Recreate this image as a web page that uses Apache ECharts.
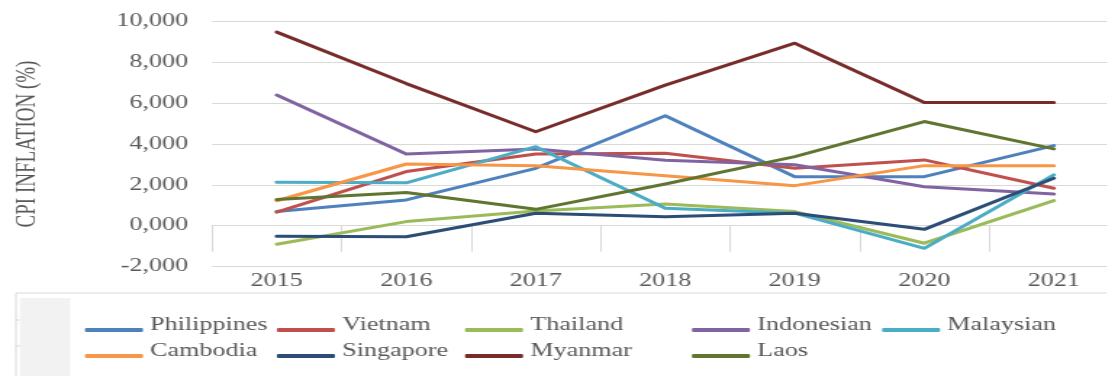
<!DOCTYPE html>
<html>
<head>
<meta charset="utf-8">
<script src="https://cdn.jsdelivr.net/npm/echarts@6/dist/echarts.min.js"></script>
<style>
html,body{margin:0;padding:0;overflow:hidden;background:#fff;width:1107px;height:376px;}
#c{width:780px;height:376px;transform:scaleX(1.45);transform-origin:0 0;}
</style>
</head>
<body>
<div id="c"></div>
<script>
const years = ['2015','2016','2017','2018','2019','2020','2021'];
const philippines = [0.69, 1.26, 2.81, 5.38, 2.40, 2.40, 3.92];
const vietnam     = [0.66, 2.65, 3.51, 3.55, 2.81, 3.22, 1.83];
const thailand    = [-0.91, 0.20, 0.72, 1.06, 0.69, -0.86, 1.23];
const indonesian  = [6.40, 3.51, 3.76, 3.20, 2.98, 1.91, 1.55];
const malaysian   = [2.13, 2.10, 3.87, 0.85, 0.61, -1.11, 2.49];
const cambodia    = [1.22, 3.02, 2.94, 2.45, 1.96, 2.94, 2.94];
const singapore   = [-0.52, -0.54, 0.61, 0.44, 0.61, -0.18, 2.32];
const myanmar     = [9.48, 6.96, 4.60, 6.88, 8.94, 6.03, 6.03];
const laos        = [1.28, 1.62, 0.80, 2.04, 3.38, 5.10, 3.76];
const yTitle = 'CPI INFLATION (%)';

const seriesDefs = [
  ['Philippines', philippines, '#4F81BD'],
  ['Vietnam', vietnam, '#C0504D'],
  ['Thailand', thailand, '#9BBB59'],
  ['Indonesian', indonesian, '#8064A2'],
  ['Malaysian', malaysian, '#4BACC6'],
  ['Cambodia', cambodia, '#F79646'],
  ['Singapore', singapore, '#2C4D75'],
  ['Myanmar', myanmar, '#772C2A'],
  ['Laos', laos, '#5F7530']
];

const FONT = '"Liberation Serif", "DejaVu Serif", serif';
const GREY = '#595959';
const LINE = '#d9d9d9';

const legendCols = [
  [['Philippines','Cambodia'], 58.6],
  [['Vietnam','Singapore'], 191],
  [['Thailand','Myanmar'], 320.7],
  [['Indonesian','Laos'], 477.2],
  [['Malaysian'], 608.3]
];

const chart = echarts.init(document.getElementById('c'), null, {renderer:'canvas'});
chart.setOption({
  animation:false,
  backgroundColor:'#fff',
  grid:{left:146.2, top:21.5, width:625.2, height:245, outerBoundsMode:'none'},
  legend: legendCols.map(([names, left]) => ({
    data: names,
    orient:'vertical',
    left:left,
    top:316,
    padding:0,
    itemGap:-2,
    itemWidth:40,
    itemHeight:4,
    icon:'roundRect',
    formatter: name => '{t|' + name + '}',
    textStyle:{fontFamily:FONT, fontSize:18, color:GREY,
      rich:{t:{fontFamily:FONT, fontSize:18, color:GREY, lineHeight:20, padding:[0,0,10,0]}}}
  })),
  xAxis:{
    type:'category',
    data:years,
    boundaryGap:true,
    axisLine:{lineStyle:{color:LINE, width:1}},
    axisTick:{show:true, alignWithLabel:false, interval:0, length:26, lineStyle:{color:LINE}},
    axisLabel:{margin:6, fontFamily:FONT, fontSize:18, color:GREY, interval:0},
    splitLine:{show:false}
  },
  yAxis:{
    type:'value',
    min:-2, max:10, interval:2,
    name:yTitle,
    nameLocation:'middle',
    nameGap:117.5,
    nameTextStyle:{fontFamily:FONT, fontSize:19, color:GREY},
    axisLine:{show:false},
    axisTick:{show:false},
    axisLabel:{margin:16.5, fontFamily:FONT, fontSize:18, color:GREY,
      formatter: v => v.toFixed(3).replace('.', ',')},
    splitLine:{lineStyle:{color:LINE, width:1}}
  },
  graphic:[
    {type:'line', shape:{x1:11, y1:293, x2:780, y2:293}, style:{stroke:LINE, lineWidth:1}},
    {type:'line', shape:{x1:11, y1:293, x2:11, y2:376}, style:{stroke:LINE, lineWidth:1}},
    {type:'rect', shape:{x:13.8, y:298, width:34.5, height:78}, style:{fill:'#f2f2f2'}},
    {type:'line', shape:{x1:11, y1:320, x2:13.8, y2:320}, style:{stroke:LINE, lineWidth:1}},
    {type:'line', shape:{x1:11, y1:346, x2:13.8, y2:346}, style:{stroke:LINE, lineWidth:1}}
  ],
  series: seriesDefs.map(([name, data, color]) => ({
    name, type:'line', data, symbol:'none', smooth:false,
    lineStyle:{width:3, color, cap:'round', join:'round'},
    itemStyle:{color},
    emphasis:{disabled:true}
  }))
});
</script>
</body>
</html>
